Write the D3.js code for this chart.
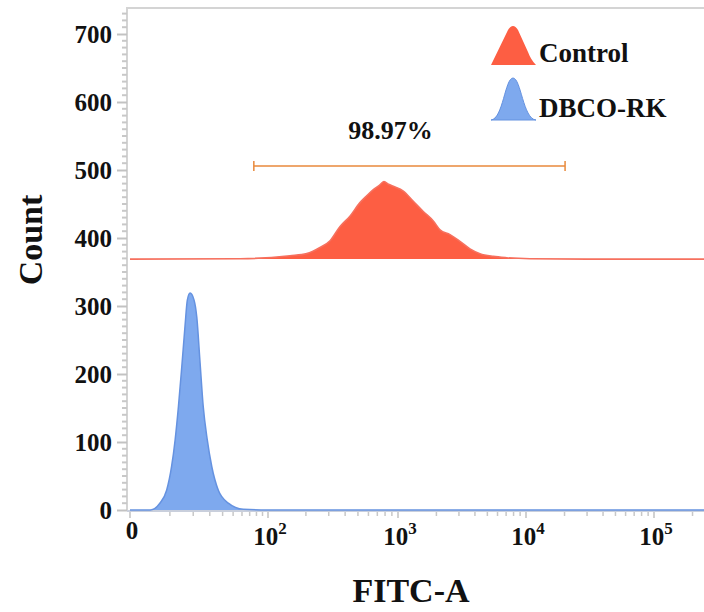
<!DOCTYPE html>
<html><head><meta charset="utf-8">
<script src="https://cdn.jsdelivr.net/npm/d3@7"></script>
<style>
html,body{margin:0;padding:0;background:#fff;}
svg{display:block;font-family:"Liberation Serif","Times New Roman",serif;font-weight:bold;}
</style></head>
<body><svg id="chart" width="704" height="612"></svg>
<script>
// ---- data ----
const seriesNames = ["Control", "DBCO-RK"];
const controlOffset = 369;           // Control histogram is drawn offset on the count axis
const controlFITC  = [0, 58, 150, 203, 257, 307, 366, 435, 518, 582, 653, 720, 785, 850, 922, 1101, 1319, 1579, 1891, 2134, 2554, 3057, 3658, 4376, 5556, 7072, 10740, 30000, 1000000];
const controlCount = [0, 0.5, 5, 8, 17, 27, 48, 63, 83, 93, 102, 108, 114, 110, 107, 100, 85, 70, 56, 43, 36, 26, 15, 8, 4, 2, 0.5, 0, 0];
const dbcoFITC  = [0, 4.2, 6.8, 8.9, 10.6, 11.9, 13.2, 14.6, 16.0, 17.1, 18.4, 20.4, 21.9, 23.8, 25.7, 28.3, 31.4, 36.4, 45.2, 61.6, 100, 1000000];
const dbcoCount = [0, 0, 10, 29, 64, 103, 152, 211, 270, 309, 319, 309, 284, 216, 152, 103, 64, 29, 10, 1, 0, 0];
const gateRange = [76, 20200];
const gateLevel = 506;
const gateLabel = "98.97%";
const gateLabelPos = [880, 545];
const yTicks = [0, 100, 200, 300, 400, 500, 600, 700];
const xTicks = [0, 100, 1000, 10000, 100000];
const xTickExp = [null, "2", "3", "4", "5"];
const xLabel = "FITC-A";
const yLabel = "Count";

// ---- layout ----
const W = 704, H = 612;
const plotL = 127, plotT = 8, plotB = 511, plotR = 704;
const svg = d3.select("#chart");

const x = d3.scaleSymlog().constant(10)
  .domain([0, 100, 1000, 10000, 100000, 1000000])
  .range([130, 268, 398, 526, 654, 782]);
const y = d3.scaleLinear().domain([0, 700]).range([510, 34]);

// minor ticks
const xMinor = [];
for (let m = 10; m < 100; m += 10) xMinor.push(m);
for (let k = 2; k <= 5; k++) for (let m = 2; m <= 9; m++) xMinor.push(m * Math.pow(10, k));
const yMinor = d3.range(0, 740, 10).filter(v => v % 100 !== 0);

svg.append("clipPath").attr("id", "clip").append("rect")
  .attr("x", plotL).attr("y", plotT).attr("width", plotR - plotL).attr("height", plotB - plotT + 2);

// frame (left + top)
svg.append("path").attr("d", `M${plotL},${plotB}V${plotT}H${plotR}`)
  .attr("fill", "none").attr("stroke", "#d4d4d4").attr("stroke-width", 2);

// y ticks
const yAxisG = svg.append("g").attr("transform", `translate(${plotL},0)`);
yAxisG.call(d3.axisLeft(y).tickValues(yTicks).tickSize(10).tickFormat(d3.format("d")))
  .attr("font-family", null).attr("font-size", null)
  .call(g => g.select(".domain").remove())
  .call(g => g.selectAll(".tick line").attr("stroke", "#c2c2c2").attr("stroke-width", 2))
  .call(g => g.selectAll(".tick text").attr("font-size", 25)
      .attr("fill", "#111").attr("x", -15).attr("dy", "0.33em"));
yAxisG.selectAll(".minor").data(yMinor).join("line").attr("class", "minor")
  .attr("x1", -5).attr("x2", 0).attr("y1", d => y(d)).attr("y2", d => y(d))
  .attr("stroke", "#c8c8c8").attr("stroke-width", 2);

// x axis
const xAxisG = svg.append("g").attr("transform", `translate(0,${plotB})`);
xAxisG.append("line").attr("x1", plotL).attr("x2", plotR).attr("stroke", "#c9cfdc").attr("stroke-width", 2);
xAxisG.selectAll(".major").data(xTicks).join("line").attr("class", "major")
  .attr("x1", d => x(d)).attr("x2", d => x(d)).attr("y1", 1).attr("y2", 7)
  .attr("stroke", "#c2c2c2").attr("stroke-width", 1.5);
xAxisG.selectAll(".minor").data(xMinor).join("line").attr("class", "minor")
  .attr("x1", d => x(d)).attr("x2", d => x(d)).attr("y1", 1).attr("y2", 5)
  .attr("stroke", "#c8c8c8").attr("stroke-width", 1.5);
const xt = xAxisG.selectAll(".xl").data(xTicks).join("text").attr("class", "xl")
  .attr("x", d => x(d) + 2).attr("y", (d, i) => i === 0 ? 28 : 34)
  .attr("text-anchor", "middle").attr("font-size", 25).attr("fill", "#111");
xt.append("tspan").text((d, i) => i === 0 ? "0" : "10");
xt.filter((d, i) => i > 0).append("tspan").attr("dy", -11).attr("font-size", 17)
  .text((d, i) => xTickExp[i + 1]);

// histograms
const plot = svg.append("g").attr("clip-path", "url(#clip)");
const controlData = controlFITC.map((v, i) => ({ v, c: controlCount[i] }));
const dbcoData = dbcoFITC.map((v, i) => ({ v, c: dbcoCount[i] }));

const controlArea = d3.area().curve(d3.curveMonotoneX)
  .x(d => x(d.v)).y0(y(controlOffset)).y1(d => y(controlOffset + d.c));
const controlLine = d3.line().curve(d3.curveMonotoneX)
  .x(d => x(d.v)).y(d => y(controlOffset + d.c));
plot.append("path").datum(controlData).attr("d", controlArea).attr("fill", "#fd5e43");
plot.append("path").datum(controlData).attr("d", controlLine)
  .attr("fill", "none").attr("stroke", "#f6705e").attr("stroke-width", 1.6);

const dbcoArea = d3.area().curve(d3.curveMonotoneX)
  .x(d => x(d.v)).y0(y(0)).y1(d => y(d.c));
const dbcoLine = d3.line().curve(d3.curveMonotoneX)
  .x(d => x(d.v)).y(d => y(d.c));
plot.append("path").datum(dbcoData).attr("d", dbcoArea).attr("fill", "#7ea9ee");
plot.append("path").datum(dbcoData).attr("d", dbcoLine)
  .attr("fill", "none").attr("stroke", "#6592e0").attr("stroke-width", 1.5);

// gate
const gateColor = "#e8893b";
const gy = y(gateLevel);
svg.append("line").attr("x1", x(gateRange[0])).attr("x2", x(gateRange[1]))
  .attr("y1", gy).attr("y2", gy).attr("stroke", gateColor).attr("stroke-width", 1.5);
gateRange.forEach(v => svg.append("line").attr("x1", x(v)).attr("x2", x(v))
  .attr("y1", gy - 5).attr("y2", gy + 5).attr("stroke", gateColor).attr("stroke-width", 1.5));
svg.append("text").attr("x", x(gateLabelPos[0])).attr("y", y(gateLabelPos[1]))
  .attr("text-anchor", "middle").attr("font-size", 26).attr("fill", "#111").text(gateLabel);

// legend
const lg = svg.append("g");
lg.append("path").attr("d", "M491,65 L508,30 Q513,22 518,30 L528,52 Q531,60 536,65 Z").attr("fill", "#fd5e43");
lg.append("path").attr("d", "M491,120 C503,119 505,78 513,78 C521,78 523,119 536,120 Z")
  .attr("fill", "#7ea9ee").attr("stroke", "#6592e0").attr("stroke-width", 1);
lg.selectAll("text").data(seriesNames).join("text")
  .attr("x", 539).attr("y", (d, i) => 62 + i * 55)
  .attr("font-size", 27).attr("fill", "#111").text(d => d);

// axis titles
svg.append("text").attr("x", 411).attr("y", 602).attr("text-anchor", "middle")
  .attr("font-size", 34).attr("fill", "#111").text(xLabel);
svg.append("text").attr("transform", "translate(42,240) rotate(-90)").attr("text-anchor", "middle")
  .attr("font-size", 34).attr("fill", "#111").text(yLabel);
</script></body></html>
